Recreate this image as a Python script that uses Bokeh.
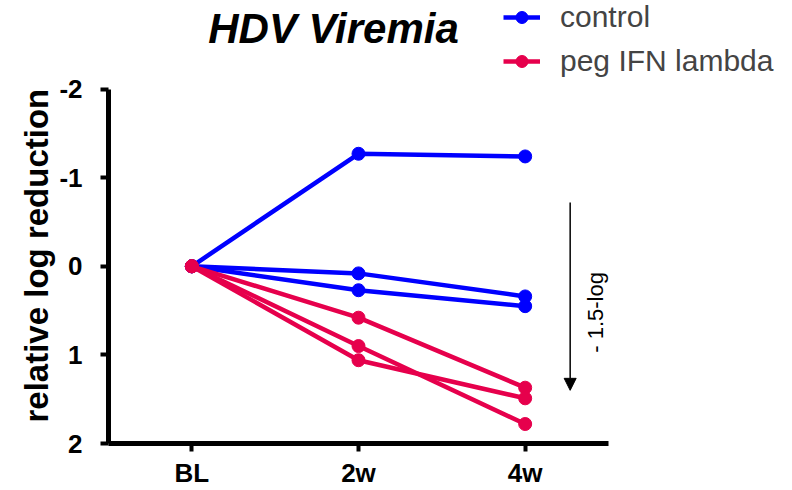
import numpy as np
from bokeh.plotting import figure
from bokeh.models import (Range1d, FixedTicker, Legend, LegendItem, Label,
                          Arrow, NormalHead, Title)
from bokeh.embed import file_html
from bokeh.resources import INLINE

# ---- data ----
timepoints = ["BL", "2w", "4w"]
control_1 = [0.0, -1.27, -1.24]
control_2 = [0.0, 0.08, 0.34]
control_3 = [0.0, 0.27, 0.45]
peg_1 = [0.0, 0.58, 1.37]
peg_2 = [0.0, 0.90, 1.78]
peg_3 = [0.0, 1.06, 1.49]
y_ticks = [-2, -1, 0, 1, 2]
y_tick_labels = ["-2", "-1", "0", "1", "2"]

control_series = [control_1, control_2, control_3]
peg_series = [peg_1, peg_2, peg_3]

BLUE = "#0000FF"
RED = "#E6004C"
FONT = "Liberation Sans"

x = list(range(len(timepoints)))

# frame spans the canvas right/top of the axes so that the title and legend
# (above/right of the axes) are not clipped; the axes are limited with bounds
p = figure(width=792, height=490, output_backend="svg", toolbar_location=None,
           x_range=Range1d(-0.5, 3.604),
           y_range=Range1d(2, -3.0),
           min_border_left=108, min_border_right=0,
           min_border_top=0, min_border_bottom=46)
p.outline_line_color = None
p.xgrid.visible = False
p.ygrid.visible = False
p.background_fill_color = "white"
p.border_fill_color = "white"

ctrl_renderers = []
for s in control_series:
    l = p.line(x, s, line_width=4.5, line_color=BLUE)
    c = p.scatter(x, s, size=13, fill_color=BLUE, line_color=BLUE)
    ctrl_renderers = [l, c]

peg_renderers = []
for s in peg_series:
    l = p.line(x, s, line_width=4.5, line_color=RED)
    c = p.scatter(x, s, size=13, fill_color=RED, line_color=RED)
    peg_renderers = [l, c]

# ---- axes ----
for ax in (p.xaxis, p.yaxis):
    ax.axis_line_width = 5
    ax.axis_line_color = "black"
    ax.major_tick_line_width = 4
    ax.major_tick_line_color = "black"
    ax.major_tick_out = 8
    ax.major_tick_in = 0
    ax.minor_tick_line_color = None
    ax.major_label_text_font = FONT
    ax.major_label_text_font_size = "26px"
    ax.major_label_text_font_style = "bold"
    ax.major_label_text_color = "black"

p.xaxis.bounds = (-0.5, len(timepoints) - 0.5)
p.xaxis.ticker = FixedTicker(ticks=x)
p.xaxis.major_label_overrides = {i: t for i, t in zip(x, timepoints)}
p.xaxis.major_label_standoff = 6

p.yaxis.bounds = (min(y_ticks), max(y_ticks))
p.yaxis.ticker = FixedTicker(ticks=y_ticks)
p.yaxis.major_label_overrides = {v: t for v, t in zip(y_ticks, y_tick_labels)}
p.yaxis.major_label_standoff = 18

# y-axis title, placed as a side title so it can be centred on the axis span
ytitle = Title(text="relative log reduction", align="left", offset=21,
               text_font=FONT, text_font_size="33px", text_font_style="bold",
               text_color="black", standoff=4)
p.add_layout(ytitle, "left")

# ---- legend ----
legend = Legend(items=[LegendItem(label="control", renderers=ctrl_renderers),
                       LegendItem(label="peg IFN lambda", renderers=peg_renderers)],
                location=(395, 365), orientation="vertical",
                label_text_font=FONT, label_text_font_size="30px",
                label_height=30, glyph_height=30, glyph_width=37,
                label_standoff=20, spacing=10, padding=0, margin=0,
                border_line_color=None, background_fill_alpha=0)
p.add_layout(legend, "center")

# ---- title ----
title = Label(x=225, y=415, x_units="screen", y_units="screen",
              text="HDV Viremia", text_font=FONT, text_font_size="42px",
              text_font_style="bold italic", text_align="center",
              text_baseline="middle", text_color="black")
p.add_layout(title)

# ---- annotation arrow ----
arrow = Arrow(end=NormalHead(size=12, fill_color="black", line_color="black"),
              x_start=2.27, y_start=-0.72, x_end=2.27, y_end=1.40,
              line_width=1.5, line_color="black")
p.add_layout(arrow)
note = Label(x=2.42, y=0.52, text="- 1.5-log", angle=np.pi / 2,
             text_font=FONT, text_font_size="22px", text_align="center",
             text_baseline="middle", text_color="black")
p.add_layout(note)

open("out.html", "w").write(file_html(p, INLINE))
